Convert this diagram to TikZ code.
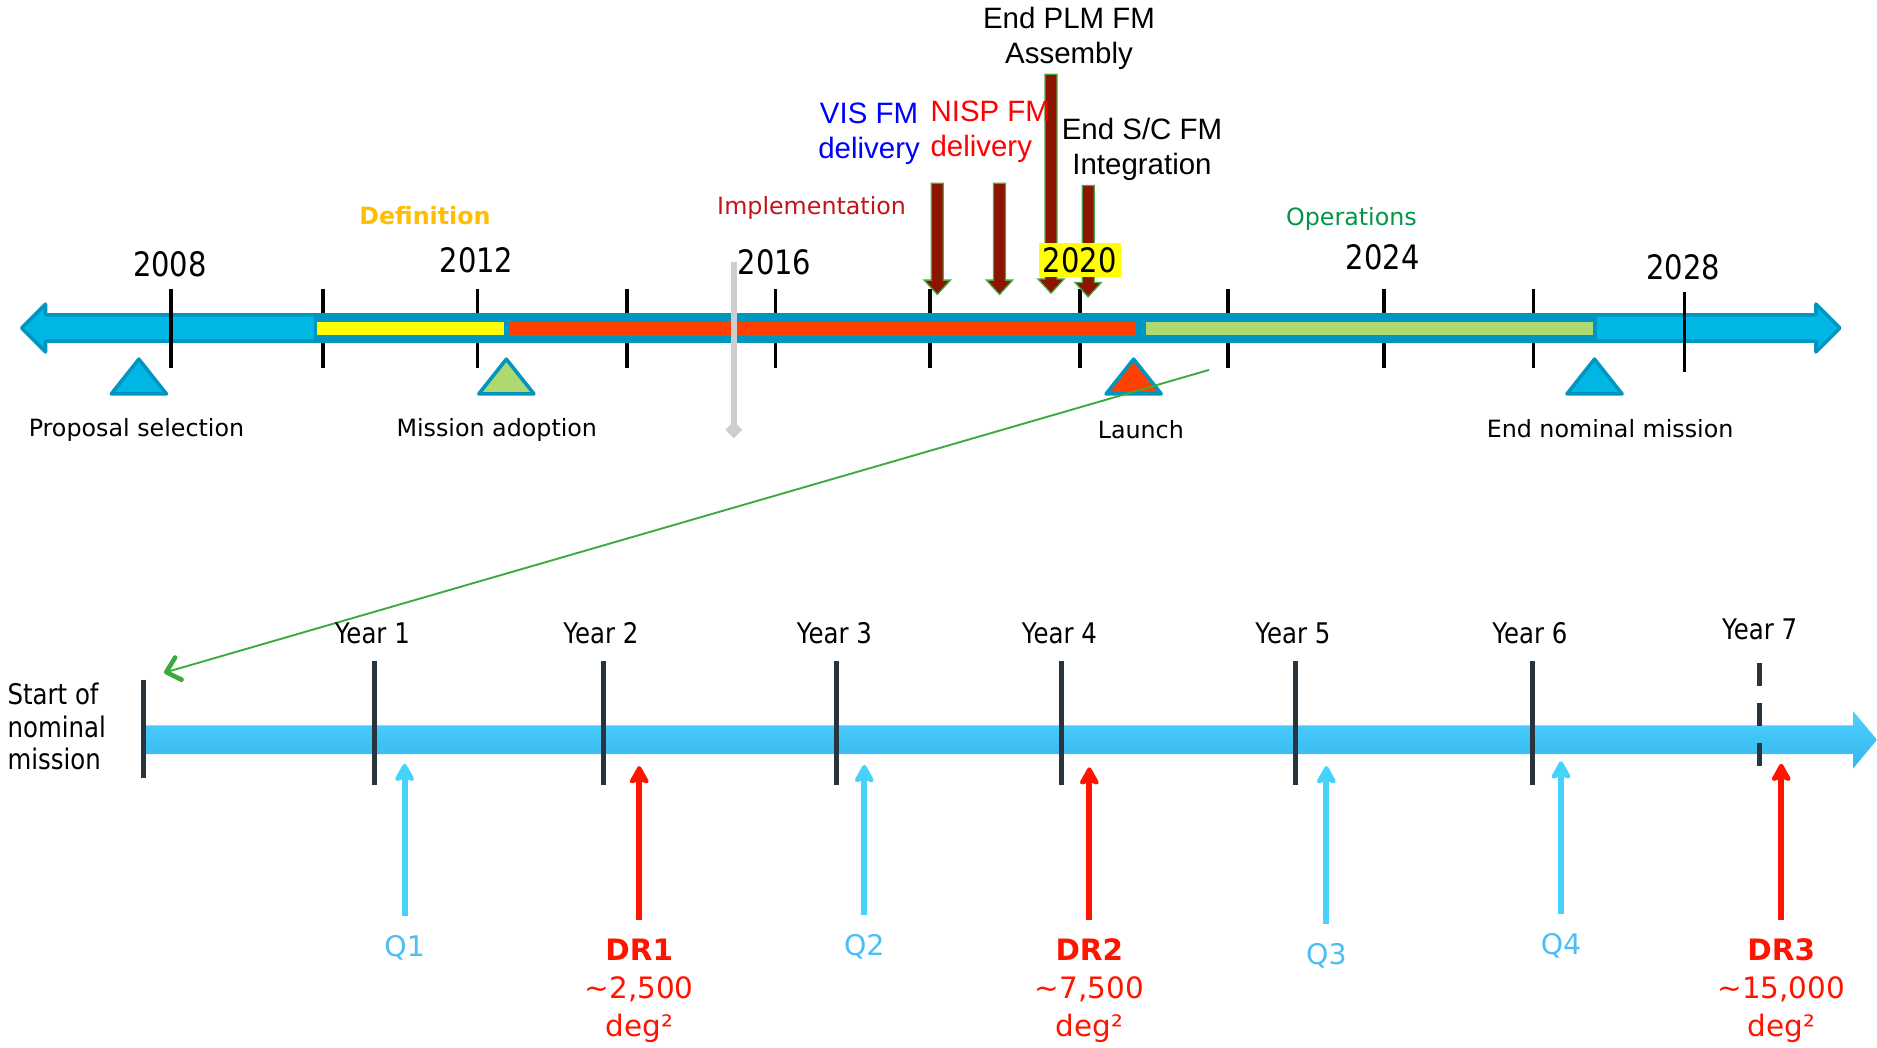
\documentclass[tikz,border=0pt]{standalone}
\usepackage{fontspec}
\setmainfont{DejaVu Sans}
\newfontfamily\narrowfont{DejaVu Sans}[FakeStretch=0.86]
\newfontfamily\arialfont{Liberation Sans}
\usetikzlibrary{arrows.meta,shapes.geometric,calc}
\definecolor{AxisCyan}{RGB}{0,182,228}
\definecolor{AxisDark}{RGB}{0,150,192}
\definecolor{PhaseYellow}{RGB}{255,255,0}
\definecolor{PhaseRed}{RGB}{255,64,0}
\definecolor{PhaseGreen}{RGB}{176,216,112}
\definecolor{DefOrange}{RGB}{255,190,0}
\definecolor{ImplRed}{RGB}{195,20,25}
\definecolor{OpsGreen}{RGB}{0,150,70}
\definecolor{DelivRed}{RGB}{140,20,0}
\definecolor{DelivEdge}{RGB}{70,170,70}
\definecolor{ZoomGreen}{RGB}{60,170,60}
\definecolor{GreyLine}{RGB}{205,205,210}
\definecolor{BarTop}{RGB}{80,208,252}
\definecolor{BarBot}{RGB}{52,182,240}
\definecolor{TickDark}{RGB}{40,52,62}
\definecolor{QBlue}{RGB}{70,210,250}
\definecolor{QText}{RGB}{75,190,245}
\definecolor{DRRed}{RGB}{255,20,0}
\tikzset{
  tickbar/.style={draw=black,line width=1.7pt},
  axis/.style={fill=AxisCyan,draw=AxisDark,line width=1.7pt,line join=round},
  milestone/.style={draw=AxisDark,line width=1.7pt,line join=round},
  yearlab/.style={font=\narrowfont\fontsize{16}{18}\selectfont,inner sep=0pt},
  eventlab/.style={font=\fontsize{11.3}{13}\selectfont,inner sep=0pt},
  devlab/.style={font=\arialfont\fontsize{14}{16.5}\selectfont,inner sep=0pt},
  deliv/.style={fill=DelivRed,draw=DelivEdge,line width=0.6pt},
  zoomline/.style={draw=ZoomGreen,line width=0.9pt,-{Straight Barb[length=6pt,width=11pt,line width=2.2pt,round]}},
}
\tikzset{ytick/.style={draw=TickDark,line width=2.3pt},
  yrlab/.style={font=\narrowfont\fontsize{13.5}{15.5}\selectfont,inner sep=0pt},
  qarrow/.style={draw=QBlue,line width=2.8pt,shorten <=9pt,-{Stealth[length=10pt,width=11pt,inset=2pt,round]}},
  drarrow/.style={qarrow,draw=DRRed},
  qlab/.style={font=\fontsize{13.5}{16}\selectfont,text=QText,inner sep=0pt,anchor=north},
  drlab/.style={font=\fontsize{14}{18}\selectfont,text=DRRed,inner sep=0pt,anchor=north,align=center}}
\newcommand{\delivArrow}[3]{%
  \draw[deliv] (#1-5,#2) -- (#1+5,#2) -- (#1+5,#3-12) -- (#1+11,#3-12)
    -- (#1,#3) -- (#1-11,#3-12) -- (#1-5,#3-12) -- cycle;}
\begin{document}
\begin{tikzpicture}[x=0.2mm,y=-0.2mm]
\useasboundingbox (0,0) rectangle (1568,875);
% top timeline
\foreach \x in {270,399,524,648,777,902,1026,1156,1281}
  \draw[tickbar] (\x,241) -- (\x,307);
\draw[axis] (18,274) -- (38,254) -- (38,263) -- (1517,263) -- (1517,254) -- (1537,274)
  -- (1517,294) -- (1517,285) -- (38,285) -- (38,294) -- cycle;
\fill[AxisDark] (262,261.5) rectangle (1334,286.5);
\fill[PhaseYellow] (265,269) rectangle (421,280);
\fill[PhaseRed] (425,269) rectangle (949,280);
\fill[PhaseGreen] (957,269) rectangle (1331,280);
\draw[tickbar] (143,241) -- (143,307);
\draw[tickbar] (1407,244) -- (1407,311);
\foreach \x/\y/\yr in {142/221/2008,398/217/2012,647/219/2016,1155/215/2024,1406/223/2028}
  \node[yearlab] (y\yr) at (\x,\y) {\yr};
% phases
\node[eventlab,text=DefOrange,font=\bfseries\fontsize{11.3}{13}\selectfont] (pDef) at (355,180) {Definition};
\node[eventlab,text=ImplRed] (pImpl) at (678,174) {Implementation};
\node[eventlab,text=OpsGreen] (pOps) at (1129,183) {Operations};
% milestones
\draw[milestone,fill=AxisCyan] (116,300) -- ++(23,29) -- ++(-46,0) -- cycle;
\draw[milestone,fill=PhaseGreen] (423,300) -- ++(23,29) -- ++(-46,0) -- cycle;
\draw[milestone,fill=PhaseRed] (947,300) -- ++(23,29) -- ++(-46,0) -- cycle;
\draw[milestone,fill=AxisCyan] (1332,300) -- ++(23,29) -- ++(-46,0) -- cycle;
\node[eventlab] (mProp) at (114,359) {Proposal selection};
\node[eventlab] (mAdopt) at (415,359) {Mission adoption};
\node[eventlab] (mLaunch) at (953,359) {Launch};
\node[eventlab] (mEnd) at (1345,358) {End nominal mission};
% grey marker
\coordinate (gTop) at (613,219);
\node[diamond,fill=GreyLine,inner sep=0pt,minimum size=2.9mm] (gBot) at (613,359) {};
\draw[GreyLine,line width=3pt] (gTop) -- (gBot.center);
% deliveries
\delivArrow{783}{153}{246}
\delivArrow{835}{153}{246}
\delivArrow{878}{62}{245}
\delivArrow{909}{155}{248}
\node[yearlab,fill=PhaseYellow,inner xsep=2pt,inner ysep=2pt] (y2020) at (902,217) {2020};
\node[devlab,text=blue,align=center] (dVis) at (726,112) {VIS FM\\delivery};
\node[devlab,text=red,align=left,anchor=west] (dNisp) at (777,110) {NISP FM\\delivery};
\node[devlab,align=center] (dPlm) at (893,32) {End PLM FM\\Assembly};
\node[devlab,align=center] (dSc) at (954,125) {End S/C FM\\Integration};
% zoom
\coordinate (zoomFrom) at (1010,309);
\coordinate (zoomTo) at (137,562);
\draw[zoomline] (zoomFrom) -- (zoomTo);
% bottom timeline
\shade[top color=BarTop,bottom color=BarBot] (120,606) -- (1548,606) -- (1548,594) -- (1568,618)
  -- (1548,642) -- (1548,630) -- (120,630) -- cycle;
\draw[ytick] (120,568) -- (120,650);
\foreach \x/\n in {313/1,504/2,699/3,887/4,1082/5,1280/6} {
  \draw[ytick] (\x,552) -- (\x,656);
  \node[yrlab] (yr\n) at (\x-2,529) {Year \n};
}
\draw[ytick,dash pattern=on 11pt off 8pt] (1470,554) -- (1470,647);
\node[yrlab] (yr7) at (1470,526) {Year 7};
\node[yrlab,align=left,anchor=west] (start) at (6,607) {Start of\\nominal\\mission};
% releases
\node[qlab] (q1) at (338,781) {Q1};
\node[qlab] (q2) at (722,780) {Q2};
\node[qlab] (q3) at (1108,788) {Q3};
\node[qlab] (q4) at (1304,779) {Q4};
\node[drlab] (dr1) at (534,784) {\textbf{DR1}\\\textasciitilde 2,500\\deg²};
\node[drlab] (dr2) at (910,784) {\textbf{DR2}\\\textasciitilde 7,500\\deg²};
\node[drlab] (dr3) at (1488,784) {\textbf{DR3}\\\textasciitilde 15,000\\deg²};
\coordinate (q1tip) at (338,638);
\coordinate (q2tip) at (722,639);
\coordinate (q3tip) at (1108,640);
\coordinate (q4tip) at (1304,636);
\coordinate (dr1tip) at (534,640);
\coordinate (dr2tip) at (910,641);
\coordinate (dr3tip) at (1488,638);
\foreach \q in {q1,q2,q3,q4} \draw[qarrow] (\q.north) -- (\q tip);
\foreach \d in {dr1,dr2,dr3} \draw[drarrow] (\d.north) -- (\d tip);
\end{tikzpicture}
\end{document}
